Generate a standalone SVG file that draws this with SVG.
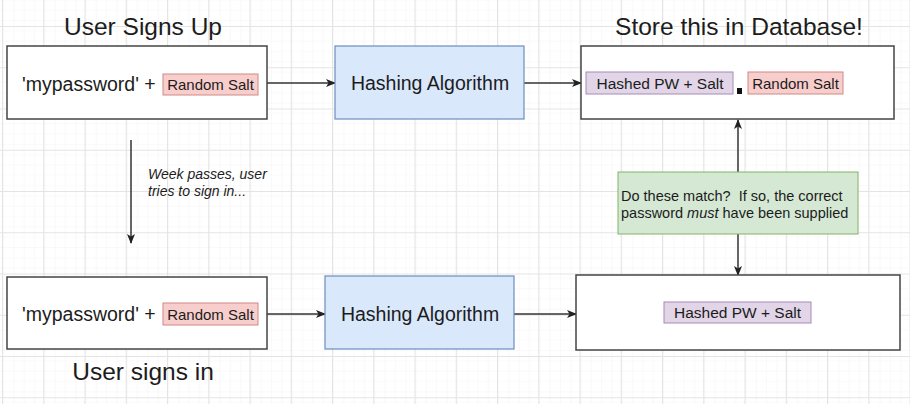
<svg xmlns="http://www.w3.org/2000/svg" width="910" height="404" viewBox="0 0 910 404">
<defs>
<pattern id="minor" x="2" y="26" width="10.3125" height="10.3125" patternUnits="userSpaceOnUse">
<path d="M10.3125 0V10.3125M0 10.3125H10.3125" fill="none" stroke="#f4f4f4" stroke-width="1"/>
</pattern>
<pattern id="major" x="2" y="26" width="41.25" height="41.25" patternUnits="userSpaceOnUse">
<rect width="41.25" height="41.25" fill="url(#minor)"/>
<path d="M0.5 0V41.25M0 0.5H41.25" fill="none" stroke="#e4e4e4" stroke-width="1"/>
</pattern>
<marker id="arr" viewBox="0 0 10 10" refX="9" refY="5" markerWidth="10" markerHeight="10" markerUnits="userSpaceOnUse" orient="auto">
<path d="M0 1L10 5L0 9L2.5 5Z" fill="#222"/>
</marker>
</defs>
<style>
.box{fill:#fff;stroke:#444;stroke-width:1.5}
.hash{fill:#dae8fc;stroke:#6c8ebf;stroke-width:1.2}
.salt{fill:#f8cecc;stroke:#d08a86;stroke-width:1}
.pw{fill:#e1d5e7;stroke:#a48cb4;stroke-width:1}
.note{fill:#d5e8d4;stroke:#82b366;stroke-width:1}
text{font-family:"Liberation Sans",Arial,sans-serif;fill:#1c1c1c}
.title{font-size:24.5px;text-anchor:middle}
.big{font-size:19.5px}
.mid{font-size:19.5px;text-anchor:middle}
.small{font-size:15px;text-anchor:middle}
.note-t{font-size:14.5px}
.it{font-size:14px;font-style:italic}
.conn{fill:none;stroke:#333;stroke-width:1.5;marker-end:url(#arr)}
</style>
<rect width="910" height="404" fill="#fff"/>
<rect width="910" height="404" fill="url(#major)"/>

<text class="title" x="143" y="35">User Signs Up</text>
<text class="title" x="739" y="35">Store this in Database!</text>
<text class="title" x="143" y="380">User signs in</text>

<g id="connectors">
<path class="conn" d="M267 83H335"/>
<path class="conn" d="M524 83H581"/>
<path class="conn" d="M131 140V243"/>
<path class="conn" d="M738 172V120"/>
<path class="conn" d="M738 234V275"/>
<path class="conn" d="M267 314H325"/>
<path class="conn" d="M514 314H576"/>
<text class="it" x="148" y="179">Week passes, user</text>
<text class="it" x="148" y="196">tries to sign in...</text>
</g>

<g id="signup">
<rect class="box" x="7" y="46" width="260" height="73"/>
<text class="big" x="22" y="91">'mypassword' +</text>
<rect class="salt" x="163" y="74" width="95" height="21"/>
<text class="small" x="210.5" y="90">Random Salt</text>
</g>

<g id="hash-top">
<rect class="hash" x="335" y="46" width="189" height="73"/>
<text class="mid" x="430" y="90">Hashing Algorithm</text>
</g>

<g id="store">
<rect class="box" x="581" y="46" width="313" height="73"/>
<rect class="pw" x="586" y="72" width="147" height="22"/>
<text class="small" x="660" y="89" style="font-size:15.5px">Hashed PW + Salt</text>
<rect x="737" y="88" width="5" height="6" fill="#111"/>
<rect class="salt" x="748" y="72" width="95" height="22"/>
<text class="small" x="795.5" y="89">Random Salt</text>
</g>

<g id="match-note">
<rect class="note" x="618" y="172" width="240" height="62"/>
<text class="note-t" x="621" y="201" xml:space="preserve">Do these match?  If so, the correct</text>
<text class="note-t" x="621" y="218">password <tspan font-style="italic">must</tspan> have been supplied</text>
</g>

<g id="signin">
<rect class="box" x="7" y="277" width="260" height="72"/>
<text class="big" x="22" y="321">'mypassword' +</text>
<rect class="salt" x="163" y="303" width="95" height="22"/>
<text class="small" x="210.5" y="320">Random Salt</text>
</g>

<g id="hash-bottom">
<rect class="hash" x="325" y="276" width="189" height="73"/>
<text class="mid" x="420" y="321">Hashing Algorithm</text>
</g>

<g id="computed">
<rect class="box" x="576" y="275" width="324" height="75"/>
<rect class="pw" x="664" y="302" width="147" height="21"/>
<text class="small" x="737.5" y="318" style="font-size:15.5px">Hashed PW + Salt</text>
</g>
</svg>
